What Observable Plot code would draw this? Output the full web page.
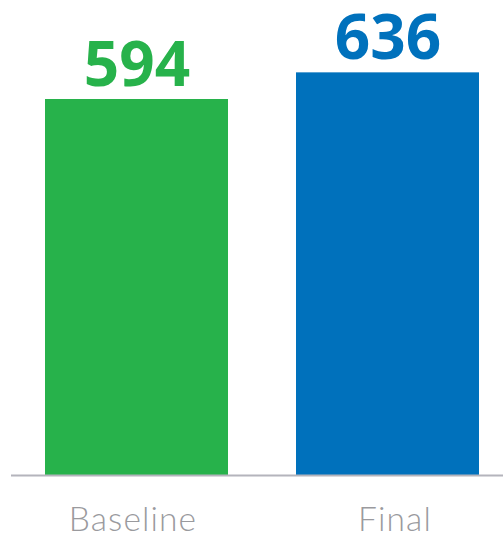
<!DOCTYPE html>
<html>
<head>
<meta charset="utf-8">
<script src="https://cdn.jsdelivr.net/npm/d3@7"></script>
<script src="https://cdn.jsdelivr.net/npm/@observablehq/plot@0.6"></script>
<style>
  html, body { margin: 0; padding: 0; background: #fff; }
  #chart svg { display: block; }
  #chart .xlab text { letter-spacing: 1.1px; }
</style>
</head>
<body>
<div id="chart"></div>
<script>
const categories = ["Baseline", "Final"];
const values = [594, 636];
const colors = ["#27b24b", "#0071bc"];

const data = categories.map((c, i) => ({category: c, value: values[i], color: colors[i]}));

const labelStyle = {
  x: "category", text: "category", frameAnchor: "bottom",
  className: "xlab", lineAnchor: "bottom", dy: 54,
  fontSize: 33.5, fill: "#9a9a9e", fontFamily: "Lato", fontWeight: 300
};

const chart = Plot.plot({
  width: 503,
  height: 533,
  marginTop: 0,
  marginBottom: 57,
  marginLeft: 11,
  marginRight: 0,
  style: {background: "#fff"},
  x: {domain: categories, paddingInner: 0.271, paddingOuter: 0.1155, align: 0.586, axis: null},
  y: {domain: [0, 750], axis: null},
  marks: [
    Plot.barY(data, {x: "category", y: "value", fill: "color"}),
    Plot.ruleY([0], {stroke: "#b4b4bc", strokeWidth: 2, dy: -1}),
    Plot.text(data, {
      x: "category", y: "value", text: d => String(d.value), fill: "color",
      lineAnchor: "bottom", dy: -14, fontSize: 62, fontWeight: 700,
      fontFamily: "Open Sans"
    }),
    Plot.text(data.filter(d => d.category === "Baseline"), {...labelStyle, dx: -4}),
    Plot.text(data.filter(d => d.category === "Final"), {...labelStyle, dx: 7})
  ]
});
document.getElementById("chart").appendChild(chart);
</script>
</body>
</html>
